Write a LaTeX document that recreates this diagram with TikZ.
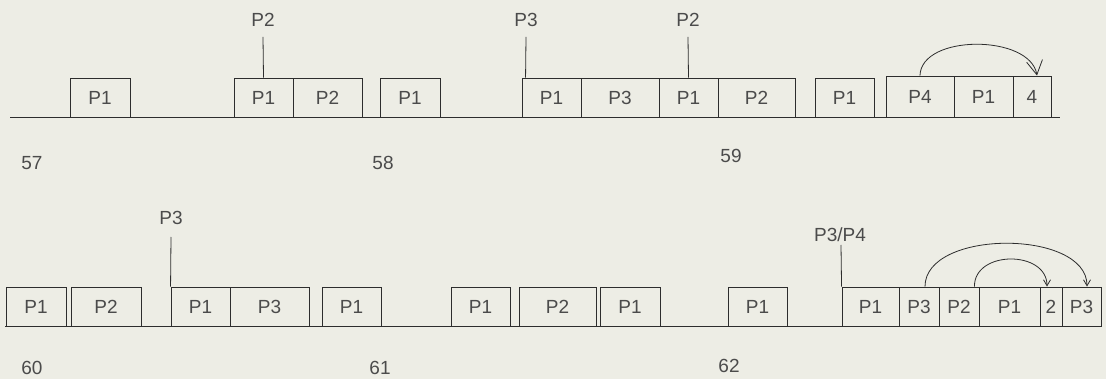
\documentclass[tikz,border=0pt]{standalone}
\usepackage{fontspec}
\setmainfont{Liberation Sans}
\usetikzlibrary{arrows.meta}
\definecolor{bgcol}{RGB}{237,237,229}
\definecolor{inkcol}{RGB}{45,45,45}
\definecolor{txtcol}{RGB}{75,75,75}
\begin{document}
\begin{tikzpicture}[x=1pt,y=-1pt,
  every node/.style={font=\fontsize{19}{22}\selectfont, text=txtcol},
  slot/.style={draw=inkcol, line width=0.9pt, inner sep=0pt, minimum height=39pt},
  tall/.style={minimum height=41pt},
  axis/.style={draw=inkcol, line width=0.9pt},
  marker/.style={draw=inkcol, line width=0.8pt},
  loop/.style={draw=inkcol, line width=0.8pt},
  lbl/.style={inner sep=0pt}
]
\fill[bgcol] (0,0) rectangle (1106,379);
\useasboundingbox (0,0) rectangle (1106,379);

% ---------- top row ----------
\coordinate (ta) at (10,117);
\coordinate (tb) at (1060,117);
\draw[axis] (ta) -- (tb);

\node[slot, minimum width=60pt] (a1)  at (100,97.5)   {P1};
\node[slot, minimum width=59pt] (a2)  at (263.5,97.5) {P1};
\node[slot, minimum width=69pt] (a3)  at (327.5,97.5) {P2};
\node[slot, minimum width=60pt] (a4)  at (410,97.5)   {P1};
\node[slot, minimum width=59pt] (a5)  at (551.5,97.5) {P1};
\node[slot, minimum width=78pt] (a6)  at (620,97.5)   {P3};
\node[slot, minimum width=59pt] (a7)  at (688.5,97.5) {P1};
\node[slot, minimum width=77pt] (a8)  at (756.5,97.5) {P2};
\node[slot, minimum width=59pt] (a9)  at (844.5,97.5) {P1};
\node[slot, tall, minimum width=68pt] (a10) at (920,96.5)    {P4};
\node[slot, tall, minimum width=59pt] (a11) at (983.5,96.5)  {P1};
\node[slot, tall, minimum width=38pt] (a12) at (1032,96.5)   {4};

\node[lbl] (ma) at (263,20) {P2};
\coordinate (mat) at (263,37);
\draw[marker] (mat) -- (a2.north);
\node[lbl] (mb) at (526,20) {P3};
\coordinate (mbt) at (526,37);
\draw[marker] (mbt) -- ([xshift=4pt]a5.north west);
\node[lbl] (mc) at (688,20) {P2};
\coordinate (mct) at (688,37);
\draw[marker] (mct) -- (a7.north);

\draw[loop, -{Straight Barb[length=14pt,width=16pt]}]
  (a10.north) .. controls (921,34) and (1030,34) .. ([xshift=5pt]a12.north);

\node[lbl] (n57) at (32,163)  {57};
\node[lbl] (n58) at (383,163) {58};
\node[lbl] (n59) at (731,156) {59};

% ---------- bottom row ----------
\coordinate (ba) at (5,326);
\coordinate (bb) at (1101,326);
\draw[axis] (ba) -- (bb);

\node[slot, minimum width=60pt] (b1)  at (36,306.5)    {P1};
\node[slot, minimum width=70pt] (b2)  at (106,306.5)   {P2};
\node[slot, minimum width=59pt] (b3)  at (200.5,306.5) {P1};
\node[slot, minimum width=79pt] (b4)  at (269.5,306.5) {P3};
\node[slot, minimum width=59pt] (b5)  at (351.5,306.5) {P1};
\node[slot, minimum width=59pt] (b6)  at (480.5,306.5) {P1};
\node[slot, minimum width=77pt] (b7)  at (557.5,306.5) {P2};
\node[slot, minimum width=60pt] (b8)  at (630,306.5)   {P1};
\node[slot, minimum width=59pt] (b9)  at (757.5,306.5) {P1};
\node[slot, minimum width=57pt] (b10) at (870.5,306.5) {P1};
\node[slot, minimum width=40pt] (b11) at (919,306.5)   {P3};
\node[slot, minimum width=40pt] (b12) at (959,306.5)   {P2};
\node[slot, minimum width=61pt] (b13) at (1009.5,306.5){P1};
\node[slot, minimum width=22pt] (b14) at (1051,306.5)  {2};
\node[slot, minimum width=39pt] (b15) at (1081.5,306.5){P3};

\node[lbl] (md) at (171,218) {P3};
\coordinate (mdt) at (171,237);
\draw[marker] (mdt) -- (b3.north west);
\node[lbl] (me) at (840,235) {P3/P4};
\coordinate (met) at (841,245);
\draw[marker] (met) -- (b10.north west);

\draw[loop, -{Straight Barb[length=6pt,width=7pt]}]
  ([xshift=6pt]b11.north) .. controls (925,229) and (1087,229) .. ([xshift=5.5pt]b15.north);
\draw[loop, -{Straight Barb[length=6pt,width=7pt]}]
  ([xshift=-5pt]b12.north east) .. controls (974,250) and (1047,250) .. ([xshift=-4pt]b14.north);

\node[lbl] (n60) at (32,368)  {60};
\node[lbl] (n61) at (380,368) {61};
\node[lbl] (n62) at (729,366) {62};
\end{tikzpicture}
\end{document}
